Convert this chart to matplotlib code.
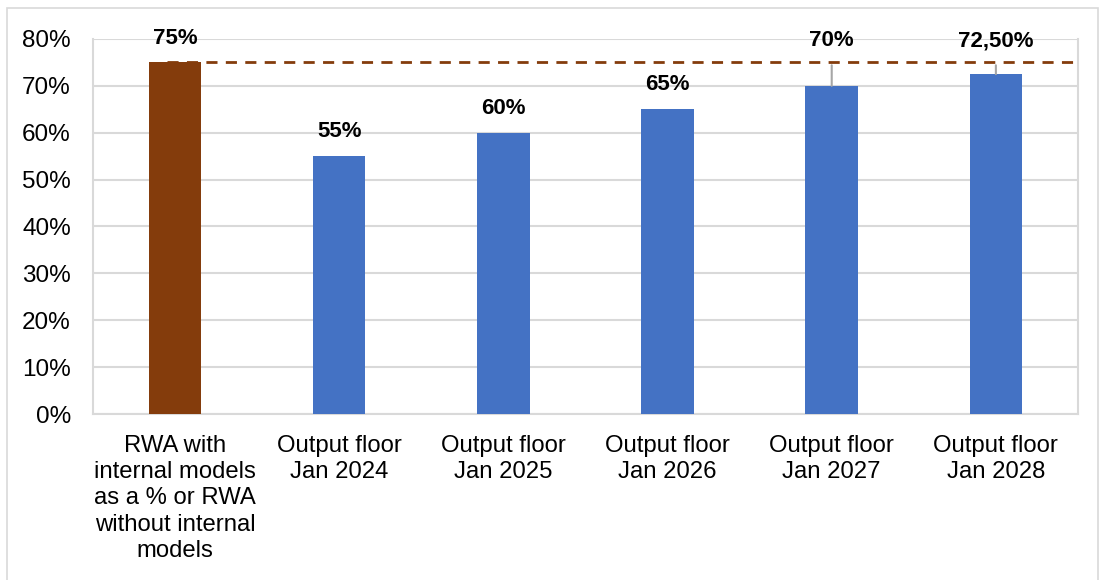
import matplotlib.pyplot as plt
from matplotlib.patches import Rectangle

categories = [
    "RWA with\ninternal models\nas a % or RWA\nwithout internal\nmodels",
    "Output floor\nJan 2024",
    "Output floor\nJan 2025",
    "Output floor\nJan 2026",
    "Output floor\nJan 2027",
    "Output floor\nJan 2028",
]
values = [75, 55, 60, 65, 70, 72.5]
value_labels = ["75%", "55%", "60%", "65%", "70%", "72,50%"]
yticks = [0, 10, 20, 30, 40, 50, 60, 70, 80]
ytick_labels = [f"{t}%" for t in yticks]

BROWN = "#843C0C"
BLUE = "#4472C4"
GRID = "#D9D9D9"

plt.rcParams["font.family"] = ["Liberation Sans", "DejaVu Sans"]

fig = plt.figure(figsize=(11.03, 5.8), dpi=100)
fig.patches.append(Rectangle((7 / 1103, -0.01), 1091 / 1103, 1 - 8 / 580 + 0.01,
                             transform=fig.transFigure, fill=False,
                             edgecolor=GRID, linewidth=1.2))
ax = fig.add_axes([0.0843, 0.2862, 0.9773 - 0.0843, 0.9328 - 0.2862])

x = list(range(len(categories)))
colors = [BROWN] + [BLUE] * (len(categories) - 1)
ax.bar(x, values, width=0.32, color=colors, zorder=3)

ax.set_xlim(-0.5, len(categories) - 0.5)
ax.set_ylim(0, 80)
ax.set_yticks(yticks)
ax.set_yticklabels(ytick_labels, fontsize=17.5)
ax.set_xticks(x)
ax.set_xticklabels(categories, fontsize=17.2, linespacing=1.25, va="top")
ax.tick_params(axis="both", length=0, colors="black")
ax.tick_params(axis="y", pad=16)
ax.tick_params(axis="x", pad=15)
ax.yaxis.grid(True, color=GRID, linewidth=1.5, zorder=0)
for side in ["left", "right", "bottom"]:
    ax.spines[side].set_color(GRID)
    ax.spines[side].set_linewidth(1.5)
ax.spines["top"].set_visible(False)

# reference line at the internal-models level
ax.plot([-0.05, len(categories) - 0.5], [values[0], values[0]], color=BROWN,
        linestyle=(0, (4, 3)), linewidth=2, zorder=4, clip_on=False)

for i, (v, lab) in enumerate(zip(values, value_labels)):
    if v >= 70 and i > 0:
        ax.annotate(lab, xy=(i, v), xytext=(i, 79.6), ha="center", va="center",
                    fontsize=16, fontweight="bold", annotation_clip=False,
                    arrowprops=dict(arrowstyle="-", color="#A6A6A6", lw=1.5,
                                    shrinkA=8, shrinkB=0))
    else:
        ax.annotate(lab, xy=(i, v), xytext=(0, 17.5), textcoords="offset points",
                    ha="center", va="center", fontsize=16, fontweight="bold",
                    annotation_clip=False)

fig.savefig("out.png", dpi=100)
